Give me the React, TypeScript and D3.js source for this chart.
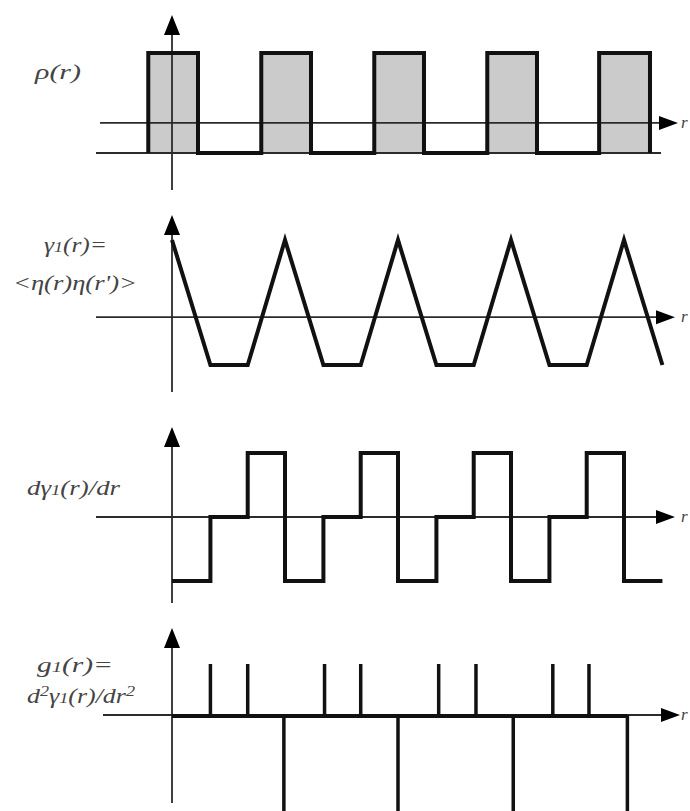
import React from "react";
import * as d3 from "d3";

// r in units of the lattice period (y axis at r = 0)
const rhoStart = [-0.21, 0.79, 1.79, 2.79, 3.78];
const rhoEnd = [0.23, 1.23, 2.23, 3.23, 4.23];
const rhoHigh = 1;
const rhoLow = -0.43;

const gammaR = [0, 0.34, 0.67, 1, 1.34, 1.67, 2, 2.34, 2.67, 3, 3.34, 3.67, 4, 4.34];
const gammaV = [1, -0.62, -0.62, 1, -0.62, -0.62, 1, -0.62, -0.62, 1, -0.62, -0.62, 1, -0.62];

const dgR = [0, 0.34, 0.67, 1, 1.34, 1.67, 2, 2.34, 2.67, 3, 3.34, 3.67, 4, 4.34];
const dgV = [-1, 0, 1, -1, 0, 1, -1, 0, 1, -1, 0, 1, -1, -1];

const gPosR = [0.34, 0.67, 1.35, 1.67, 2.36, 2.69, 3.37, 3.69];
const gNegR = [0.99, 2.0, 3.02, 4.03];
const gPos = 1;
const gNeg = -3;
const gEnd = 4.03;

const W = 690;
const H = 811;
const INK = "#111";
const AXIS = "#2b2b2b";
const TXT = "#444";
const FONT = "'Liberation Serif', 'DejaVu Serif', serif";

export default function App() {
  const x = d3.scaleLinear().domain([0, 4]).range([172, 624]);
  const axisX = x(0);

  // one y scale per panel
  const yRho = d3.scaleLinear().domain([rhoLow, rhoHigh]).range([153, 53]);
  const yGam = d3.scaleLinear().domain([-0.62, 1]).range([365, 240]);
  const yDg = d3.scaleLinear().domain([-1, 1]).range([581, 453]);
  const yG = d3.scaleLinear().domain([0, gPos]).range([715, 664]);

  const line = d3.line<[number, number]>();

  // rho(r) as a step outline
  const rhoPts: [number, number][] = [];
  rhoStart.forEach((s, i) => {
    rhoPts.push([x(s), yRho(rhoLow)], [x(s), yRho(rhoHigh)], [x(rhoEnd[i]), yRho(rhoHigh)], [x(rhoEnd[i]), yRho(rhoLow)]);
  });

  const gamPath = line(gammaR.map((r, i) => [x(r), yGam(gammaV[i])]));
  const dgPath = d3
    .line<[number, number]>()
    .curve(d3.curveStepAfter)(dgR.map((r, i) => [x(r), yDg(dgV[i])]));

  // axes: horizontal axis y, its left end, arrow tip, vertical axis top/bottom
  const axes = [
    { y: yRho(0), x0: 100, tipX: 678, top: 15, bottom: 190 },
    { y: yGam(0), x0: 96, tipX: 675, top: 215, bottom: 392 },
    { y: yDg(0), x0: 96, tipX: 675, top: 427, bottom: 603 },
    { y: yG(0), x0: 103, tipX: 680, top: 628, bottom: 803 },
  ];

  const hArrow = (tx: number, y: number) => `M${tx},${y} L${tx - 19},${y - 7} L${tx - 19},${y + 7} Z`;
  const vArrow = (xx: number, ty: number) => `M${xx},${ty} L${xx - 8},${ty + 20} L${xx + 8},${ty + 20} Z`;

  const sub = { fontSize: 14 };

  return (
    <svg width={W} height={H} style={{ position: "absolute", left: 0, top: 0, background: "#fff" }}>
      {/* rho fill */}
      {rhoStart.map((s, i) => (
        <rect
          key={"rf" + i}
          x={x(s)}
          y={yRho(rhoHigh)}
          width={x(rhoEnd[i]) - x(s)}
          height={yRho(rhoLow) - yRho(rhoHigh)}
          fill="#cbcbcb"
        />
      ))}
      <line x1={96} x2={661} y1={yRho(rhoLow)} y2={yRho(rhoLow)} stroke={AXIS} strokeWidth={1.8} />

      {/* axes */}
      {axes.map((a, i) => (
        <g key={"ax" + i}>
          <line x1={a.x0} x2={a.tipX - 10} y1={a.y} y2={a.y} stroke={AXIS} strokeWidth={1.8} />
          <path d={hArrow(a.tipX, a.y)} fill="#000" />
          <line x1={axisX} x2={axisX} y1={a.top + 12} y2={a.bottom} stroke={AXIS} strokeWidth={1.8} />
          <path d={vArrow(axisX, a.top)} fill="#000" />
          <text x={681} y={a.y + 5} fontFamily={FONT} fontStyle="italic" fontSize={17} fill={TXT}>
            r
          </text>
        </g>
      ))}

      {/* curves */}
      <path d={line(rhoPts) ?? ""} fill="none" stroke={INK} strokeWidth={4} strokeLinejoin="miter" />
      <path d={gamPath ?? ""} fill="none" stroke={INK} strokeWidth={4} strokeLinejoin="miter" />
      <path d={dgPath ?? ""} fill="none" stroke={INK} strokeWidth={4} strokeLinejoin="miter" />

      {/* g(r) */}
      <line x1={x(0)} x2={x(gEnd)} y1={yG(0) + 1} y2={yG(0) + 1} stroke={INK} strokeWidth={4} />
      {gPosR.map((r, i) => (
        <line key={"gp" + i} x1={x(r)} x2={x(r)} y1={yG(0)} y2={yG(gPos)} stroke={INK} strokeWidth={3.5} />
      ))}
      {gNegR.map((r, i) => (
        <line key={"gn" + i} x1={x(r)} x2={x(r)} y1={yG(0)} y2={yG(gNeg)} stroke={INK} strokeWidth={3.5} />
      ))}

      {/* labels */}
      <g fontFamily={FONT} fontStyle="italic" fontSize={20} fill={TXT}>
        <text x={35} y={79} textLength={46} lengthAdjust="spacingAndGlyphs">
          ρ(r)
        </text>
        <text x={44} y={252} textLength={63} lengthAdjust="spacingAndGlyphs">
          γ<tspan style={sub}>1</tspan>(r)=
        </text>
        <text x={13} y={290} textLength={124} lengthAdjust="spacingAndGlyphs">
          {"<η(r)η(r')>"}
        </text>
        <text x={27} y={495} textLength={93} lengthAdjust="spacingAndGlyphs">
          dγ<tspan style={sub}>1</tspan>(r)/dr
        </text>
        <text x={37} y={672} textLength={76} lengthAdjust="spacingAndGlyphs">
          g<tspan style={sub}>1</tspan>(r)=
        </text>
        <text x={27} y={703} textLength={108} lengthAdjust="spacingAndGlyphs">
          d<tspan style={sub} dy={-7}>2</tspan>
          <tspan dy={7}>γ</tspan>
          <tspan style={sub}>1</tspan>(r)/dr<tspan style={sub} dy={-7}>2</tspan>
        </text>
      </g>
    </svg>
  );
}
